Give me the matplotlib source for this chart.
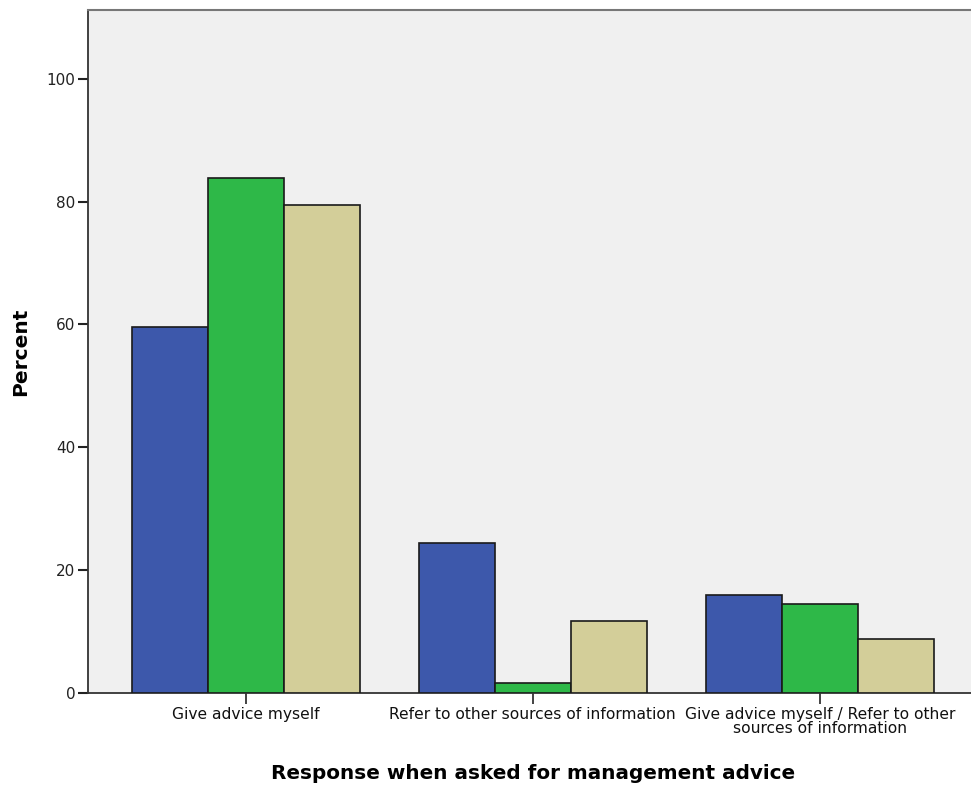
import matplotlib
matplotlib.use("Agg")
import matplotlib.pyplot as plt
import numpy as np

categories = ["Give advice myself", "Refer to other sources of information",
              "Give advice myself / Refer to other\nsources of information"]
series_blue = [59.6, 24.4, 16.0]
series_green = [83.9, 1.6, 14.5]
series_tan = [79.5, 11.7, 8.8]
yticks = [0, 20, 40, 60, 80, 100]

plt.rcParams['font.family'] = ['DejaVu Sans']

fig = plt.figure(figsize=(9.71, 7.90), dpi=100)
ax = fig.add_axes([88/971, 97/790, 889.7/971, 683/790])
ax.set_facecolor('#F0F0F0')

x = np.arange(len(categories))
w = 0.265
colors = ['#3D58AB', '#2EB848', '#D3CE99']
for i, (vals, c) in enumerate(zip([series_blue, series_green, series_tan], colors)):
    ax.bar(x + (i - 1) * w, vals, width=w, color=c, edgecolor='#1a1a1a', linewidth=1.2, zorder=3)

ax.set_xlim(-0.55, 2.55)
ax.set_ylim(0, 111.2)
ax.set_yticks(yticks)
ax.set_yticklabels([str(t) for t in yticks], fontsize=11, color='#222222')
ax.set_xticks(x)
ax.set_xticklabels(categories, fontsize=11.2, color='#111111', linespacing=0.95)
ax.tick_params(axis='y', length=7, width=1.5, color='#222222', pad=2)
ax.tick_params(axis='x', length=8, width=1.2, color='#222222', pad=2)

for s in ['left', 'bottom']:
    ax.spines[s].set_color('#333333')
    ax.spines[s].set_linewidth(1.3)
ax.spines['top'].set_color('#777777')
ax.spines['top'].set_linewidth(1.5)
ax.spines['right'].set_visible(False)

ax.set_ylabel('Percent', fontsize=14.5, fontweight='bold', labelpad=12)
ax.set_xlabel('Response when asked for management advice', fontsize=14.4, fontweight='bold', labelpad=20)

fig.savefig('out.png', dpi=100)
